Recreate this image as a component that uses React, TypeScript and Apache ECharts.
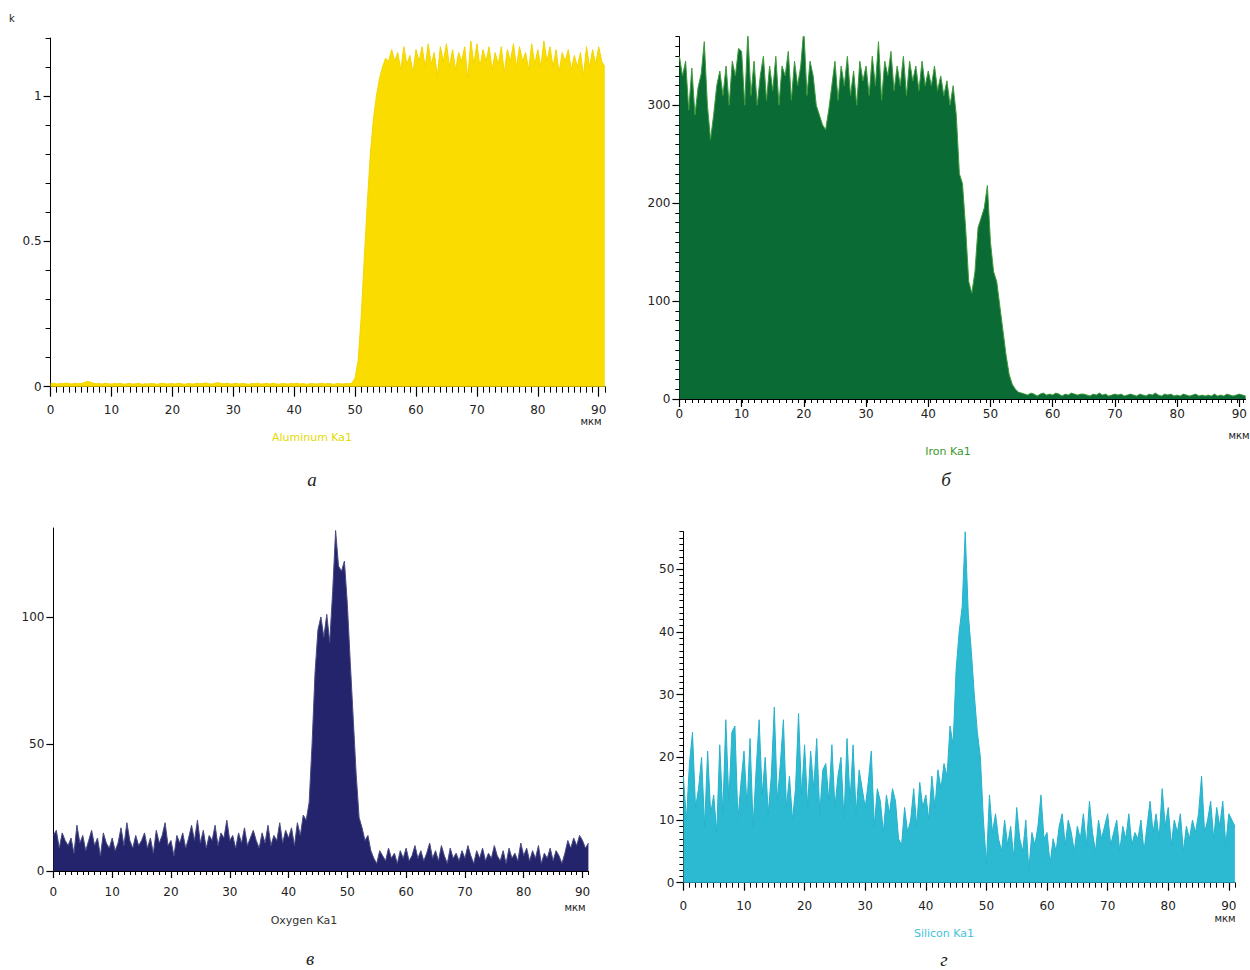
import React, { useEffect, useRef } from "react";
import * as echarts from "echarts";

// x step of the line scans, in µm
const STEP = 0.5;

// а — Aluminum Ka1 (k), x = 0 … 91 µm, step 0.5
const aluminum = [
  0.010,0.012,0.009,0.011,0.010,0.013,0.011,0.009,0.012,0.010,
  0.011,0.014,0.018,0.016,0.012,0.010,0.011,0.009,0.012,0.010,
  0.009,0.011,0.010,0.012,0.008,0.010,0.011,0.009,0.010,0.012,
  0.008,0.010,0.009,0.011,0.010,0.008,0.011,0.012,0.009,0.010,
  0.011,0.009,0.012,0.010,0.008,0.011,0.010,0.009,0.012,0.010,
  0.011,0.013,0.010,0.009,0.012,0.014,0.011,0.010,0.012,0.009,
  0.010,0.012,0.009,0.011,0.010,0.008,0.011,0.010,0.012,0.009,
  0.010,0.011,0.009,0.012,0.010,0.008,0.011,0.010,0.009,0.011,
  0.010,0.012,0.009,0.011,0.008,0.010,0.011,0.009,0.010,0.012,
  0.009,0.011,0.010,0.008,0.011,0.010,0.009,0.011,0.010,0.013,
  0.03,0.09,0.24,0.44,0.63,0.80,0.92,1.00,1.06,1.10,
  1.13,1.12,1.16,1.12,1.15,1.09,1.17,1.11,1.14,1.08,
  1.16,1.12,1.17,1.10,1.18,1.11,1.15,1.07,1.17,1.12,
  1.18,1.10,1.16,1.09,1.15,1.12,1.17,1.06,1.19,1.11,
  1.18,1.10,1.16,1.12,1.17,1.09,1.15,1.11,1.17,1.08,
  1.16,1.12,1.18,1.10,1.17,1.12,1.15,1.09,1.18,1.11,
  1.16,1.10,1.19,1.12,1.17,1.10,1.16,1.08,1.15,1.12,
  1.16,1.09,1.14,1.10,1.15,1.07,1.17,1.10,1.16,1.11,
  1.17,1.12,1.10,
];

// б — Iron Ka1
const iron = [
  350,330,345,295,338,290,318,332,365,300,
  265,290,320,335,310,340,300,345,330,358,
  355,300,375,310,345,300,330,350,305,340,
  315,350,300,340,330,355,305,345,320,340,
  378,310,345,330,300,290,280,275,295,320,
  345,305,340,320,350,310,335,300,345,325,
  340,310,350,320,365,305,345,330,355,315,
  340,320,350,310,345,325,340,315,345,320,
  335,320,340,315,330,310,325,300,320,290,
  230,220,175,120,108,130,175,185,195,218,
  160,130,120,95,70,45,25,15,10,7,
  6,5,4,6,5,3,5,6,4,5,
  4,6,5,3,5,4,6,5,4,5,
  5,4,3,5,4,6,4,5,3,4,
  5,4,5,3,4,5,4,3,5,4,
  3,5,4,6,4,3,5,4,5,3,
  4,3,5,4,3,4,5,3,4,3,
  4,3,5,3,4,3,5,4,3,4,
  5,4,3,
];

// в — Oxygen Ka1
const oxygen = [
  14,16,9,15,12,10,13,7,18,11,
  14,8,12,16,10,13,6,15,11,9,
  13,8,11,17,10,19,12,9,14,10,
  12,15,9,13,7,16,11,14,19,10,
  12,6,14,11,15,9,13,18,12,20,
  11,16,9,14,12,18,10,15,13,20,
  12,14,9,15,11,17,10,13,16,12,
  9,15,11,18,10,14,12,19,11,16,
  13,17,10,19,14,22,20,27,50,78,
  95,100,92,101,90,110,134,120,118,122,
  105,82,60,38,21,17,12,14,8,5,
  3,8,6,4,9,5,7,3,8,5,
  9,4,6,10,5,8,4,7,11,5,
  8,4,10,6,3,9,5,7,4,8,
  5,10,6,3,8,5,9,4,7,5,
  10,6,4,8,3,9,5,7,4,11,
  6,9,4,8,5,10,3,7,5,9,
  4,8,6,3,7,12,9,13,10,14,
  12,9,11,
];

// г — Silicon Ka1
const silicon = [
  17,10,19,24,12,15,20,9,21,11,
  14,8,22,11,26,13,24,25,10,16,
  21,12,23,9,18,26,14,20,11,17,
  28,13,19,26,12,17,10,15,27,14,
  22,12,21,15,23,11,18,19,13,22,
  12,17,20,10,23,13,22,11,18,15,
  12,16,21,9,15,13,8,14,11,15,
  13,7,6,12,8,10,15,9,16,12,
  14,10,17,12,18,15,19,17,25,22,
  34,40,44,56,43,37,30,24,20,10,
  3,14,8,11,7,5,10,6,9,4,
  12,7,5,10,2,8,6,9,14,7,
  8,3,7,5,9,11,6,10,8,5,
  9,7,11,6,13,8,5,10,7,9,
  11,6,8,10,5,9,7,11,6,8,
  7,10,5,9,13,8,11,7,15,9,
  12,6,10,8,11,5,9,7,10,8,
  11,17,8,10,13,7,12,9,13,6,
  11,10,9,
];

// tick values
const xLabelTicks = [0, 10, 20, 30, 40, 50, 60, 70, 80, 90];
const X_MAX = 91;
const X_MINOR_STEP = 1;
const yTicksA = [0, 0.5, 1];
const yTicksB = [0, 100, 200, 300];
const yTicksC = [0, 50, 100];
const yTicksD = [0, 10, 20, 30, 40, 50];

const seriesNames = ["Aluminum Ka1", "Iron Ka1", "Oxygen Ka1", "Silicon Ka1"];
const captions = ["а", "б", "в", "г"];

const LABEL_FONT = "DejaVu Sans";

type Panel = {
  vals: number[];
  grid: { left: number; top: number; width: number; height: number };
  yMax: number;
  yTicks: number[];
  yMinorStep: number;
  area: string;
  line: string;
  xMajorLen: number;
  xMinorLen: number;
  xMargin: number;
  yMajorLen: number;
  yMinorLen: number;
  labelColor: string;
  name: [number, number];
  unit: [number, number];
  caption: [number, number];
};

const panels: Panel[] = [
  {
    vals: aluminum,
    grid: { left: 50.6, top: 38, width: 554.2, height: 348.7 },
    yMax: 1.2, yTicks: yTicksA, yMinorStep: 0.1,
    area: "#FADC00", line: "#F2D500",
    xMajorLen: 10, xMinorLen: 6, xMargin: 17, yMajorLen: 7, yMinorLen: 5,
    labelColor: "#E4DA00", name: [312, 437], unit: [591, 421], caption: [312, 479],
  },
  {
    vals: iron,
    grid: { left: 679.4, top: 36.7, width: 571.5, height: 362.3 },
    yMax: 370, yTicks: yTicksB, yMinorStep: 10,
    area: "#0A6B35", line: "#3F9A3A",
    xMajorLen: 8, xMinorLen: 4, xMargin: 9, yMajorLen: 7, yMinorLen: 4,
    labelColor: "#3C9A2C", name: [948, 451], unit: [1239, 435], caption: [946, 479],
  },
  {
    vals: oxygen,
    grid: { left: 53.4, top: 528, width: 535, height: 343 },
    yMax: 135, yTicks: yTicksC, yMinorStep: 0,
    area: "#24246C", line: "#4A4B80",
    xMajorLen: 7, xMinorLen: 4, xMargin: 15, yMajorLen: 7, yMinorLen: 3,
    labelColor: "#333333", name: [304, 920], unit: [575, 907], caption: [310, 958.5],
  },
  {
    vals: silicon,
    grid: { left: 683.4, top: 531.7, width: 551.5, height: 351 },
    yMax: 56, yTicks: yTicksD, yMinorStep: 1,
    area: "#2CBAD3", line: "#27B2CB",
    xMajorLen: 8, xMinorLen: 5, xMargin: 17, yMajorLen: 7, yMinorLen: 4,
    labelColor: "#45C2DA", name: [944, 933], unit: [1225, 918], caption: [944, 959.5],
  },
];

function textEl(text: string, x: number, y: number, font: string, fill: string) {
  return {
    type: "text",
    x,
    y,
    silent: true,
    style: {
      text,
      fill,
      font,
      textAlign: "center",
      align: "center",
      textVerticalAlign: "middle",
      verticalAlign: "middle",
    },
  };
}

export default function App() {
  const ref = useRef<HTMLDivElement>(null);

  useEffect(() => {
    if (!ref.current) return;
    const chart = echarts.init(ref.current, undefined, { renderer: "svg" });

    const n = panels.length;
    const grids: any[] = [];
    const xAxes: any[] = [];
    const yAxes: any[] = [];
    const series: any[] = [];
    const graphics: any[] = [];
    const ink = "#000000";

    // main grids (with data, labels, major ticks)
    panels.forEach((p, gi) => {
      grids.push({ ...p.grid, containLabel: false });
      xAxes.push({
        type: "value", gridIndex: gi, min: 0, max: X_MAX, position: "bottom",
        axisLine: { show: true, onZero: false, lineStyle: { color: ink, width: 1 } },
        axisTick: { show: true, customValues: xLabelTicks, length: p.xMajorLen, lineStyle: { color: ink, width: 1.2 } },
        axisLabel: {
          show: true, customValues: xLabelTicks, margin: p.xMargin,
          fontFamily: LABEL_FONT, fontSize: 12, color: "#222",
        },
        splitLine: { show: false },
      });
      yAxes.push({
        type: "value", gridIndex: gi, min: 0, max: p.yMax, position: "left",
        axisLine: { show: true, onZero: false, lineStyle: { color: ink, width: 1 } },
        axisTick: { show: true, customValues: p.yTicks, length: p.yMajorLen, lineStyle: { color: ink, width: 1.2 } },
        axisLabel: {
          show: true, customValues: p.yTicks, margin: 9,
          fontFamily: LABEL_FONT, fontSize: 12, color: "#222",
        },
        splitLine: { show: false },
      });
      series.push({
        type: "line",
        name: seriesNames[gi],
        xAxisIndex: gi,
        yAxisIndex: gi,
        data: p.vals.map((v, i) => [i * STEP, v]),
        showSymbol: false,
        symbol: "none",
        lineStyle: { color: p.line, width: 1 },
        areaStyle: { color: p.area, opacity: 1 },
        itemStyle: { color: p.area },
        z: 1,
      });
      graphics.push(textEl(seriesNames[gi], p.name[0], p.name[1], `11px '${LABEL_FONT}'`, p.labelColor));
      graphics.push(textEl("мкм", p.unit[0], p.unit[1], `10px '${LABEL_FONT}'`, "#222"));
      graphics.push(textEl(captions[gi], p.caption[0], p.caption[1], "italic 19px 'Liberation Serif'", "#231f20"));
    });

    // overlay grids carrying only the minor ticks (regular intervals)
    panels.forEach((p, gi) => {
      const g = n + gi;
      grids.push({ ...p.grid, containLabel: false });
      xAxes.push({
        type: "value", gridIndex: g, min: 0, max: X_MAX, interval: X_MINOR_STEP, position: "bottom",
        axisLine: { show: false, onZero: false },
        axisTick: { show: true, length: p.xMinorLen, lineStyle: { color: ink, width: 1 } },
        axisLabel: { show: false },
        splitLine: { show: false },
      });
      yAxes.push({
        type: "value", gridIndex: g, min: 0, max: p.yMax,
        interval: p.yMinorStep > 0 ? p.yMinorStep : p.yMax,
        position: "left",
        axisLine: { show: false, onZero: false },
        axisTick: { show: p.yMinorStep > 0, length: p.yMinorLen, lineStyle: { color: ink, width: 1 } },
        axisLabel: { show: false },
        splitLine: { show: false },
      });
    });

    graphics.push(textEl("k", 12, 18, `10px '${LABEL_FONT}'`, "#222"));

    chart.setOption({
      animation: false,
      backgroundColor: "#ffffff",
      grid: grids,
      xAxis: xAxes,
      yAxis: yAxes,
      series,
      graphic: { elements: graphics },
    });

    return () => chart.dispose();
  }, []);

  return (
    <div
      ref={ref}
      style={{ position: "absolute", left: 0, top: 0, width: 1250, height: 970 }}
    />
  );
}
